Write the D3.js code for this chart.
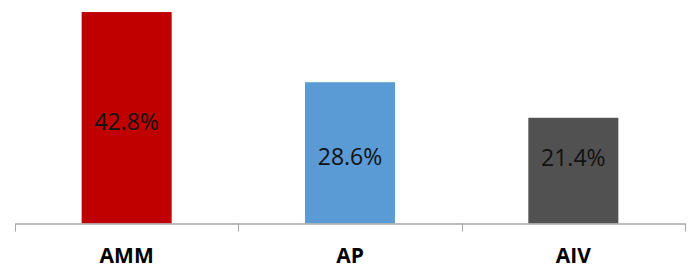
<!DOCTYPE html>
<html>
<head>
<meta charset="utf-8">
<script src="https://cdn.jsdelivr.net/npm/d3@7"></script>
<style>
  body { margin: 0; background: #fff; }
  svg { display: block; }
</style>
</head>
<body>
<div id="container"></div>
<script>
// chart data
const categories = ["AMM", "AP", "AIV"];
const values = [42.8, 28.6, 21.4];
const colors = ["#C00000", "#5B9BD5", "#515151"];

let w = 692,
  h = 267;

let svg = d3.select("#container")
  .append("svg")
  .attr("width", w)
  .attr("height", h);

// scales
let x = d3.scaleBand()
  .domain(categories)
  .range([15, 685])
  .paddingInner(0)
  .paddingOuter(0);

let y = d3.scaleLinear()
  .domain([0, 45])
  .range([223.5, 1.2]);

let barW = x.bandwidth() * 0.403;

// bars
svg.selectAll("rect.bar")
  .data(values)
  .enter()
  .append("rect")
  .attr("class", "bar")
  .attr("x", (d, i) => x(categories[i]) + x.bandwidth() / 2 - barW / 2)
  .attr("y", d => y(d))
  .attr("width", barW)
  .attr("height", d => y(0) - y(d))
  .style("fill", (d, i) => colors[i]);

// value labels
svg.selectAll("text.val")
  .data(values)
  .enter()
  .append("text")
  .attr("class", "val")
  .attr("x", (d, i) => x(categories[i]) + x.bandwidth() / 2)
  .attr("y", d => Math.min((y(d) + y(0)) / 2 + 3, y(13.5)))
  .attr("text-anchor", "middle")
  .attr("dominant-baseline", "central")
  .style("font-family", "'Open Sans', sans-serif")
  .style("font-size", "23px")
  .style("fill", "#111")
  .text(d => d.toFixed(1) + "%");

// x axis
let xAxis = d3.axisBottom(x)
  .tickSize(0)
  .tickSizeOuter(0)
  .tickFormat("");

let axisG = svg.append("g")
  .attr("transform", "translate(0," + y(0) + ")")
  .call(xAxis);
axisG.select(".domain")
  .attr("stroke", "#A6A6A6")
  .attr("stroke-width", 1.5);

// band edge ticks
let edges = categories.map(c => x(c)).concat([x(categories[categories.length - 1]) + x.bandwidth()]);
axisG.selectAll("line.edge")
  .data(edges)
  .enter()
  .append("line")
  .attr("class", "edge")
  .attr("x1", d => Math.round(d) + 0.5)
  .attr("x2", d => Math.round(d) + 0.5)
  .attr("y1", 0)
  .attr("y2", 8)
  .attr("stroke", "#A6A6A6")
  .attr("stroke-width", 1);

// category labels
svg.selectAll("text.cat")
  .data(categories)
  .enter()
  .append("text")
  .attr("class", "cat")
  .attr("x", d => x(d) + x.bandwidth() / 2)
  .attr("y", 263)
  .attr("text-anchor", "middle")
  .style("font-family", "'Open Sans', sans-serif")
  .style("font-weight", "bold")
  .style("font-size", "21px")
  .style("fill", "#000")
  .text(d => d);
</script>
</body>
</html>
